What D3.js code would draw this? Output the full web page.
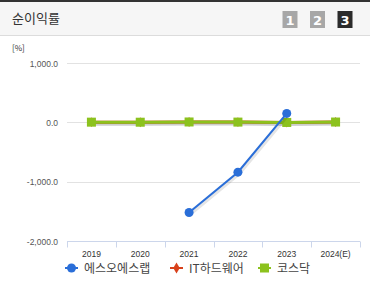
<!DOCTYPE html>
<html>
<head>
<meta charset="utf-8">
<script src="https://cdn.jsdelivr.net/npm/d3@7"></script>
<style>
  html, body { margin: 0; padding: 0; background: #fff; }
  body { width: 370px; height: 285px; overflow: hidden; font-family: "Noto Sans CJK KR", "Noto Sans", sans-serif; }
</style>
</head>
<body>
<div id="chart"></div>
<script>
const title = "순이익률";
const unitLabel = "[%]";
const years = ["2019", "2020", "2021", "2022", "2023", "2024(E)"];
const yTicks = [1000, 0, -1000, -2000];
const seriesNames = ["에스오에스랩", "IT하드웨어", "코스닥"];
const seriesColors = ["#2a6ed8", "#d8411b", "#8cc21e"];
const sosValues = [null, null, -1520, -840, 150, null];
const itValues = [3, 2, 5, 4, -2, 5];
const kosdaqValues = [3, 2, 6, 4, -2, 5];
const pageButtons = ["1", "2", "3"];

const width = 370, height = 285;
const svg = d3.select("#chart").append("svg")
    .attr("width", width).attr("height", height)
    .attr("font-family", "'Noto Sans CJK KR', sans-serif");

// header
svg.append("rect").attr("x", 0).attr("y", 0).attr("width", width).attr("height", 36).attr("fill", "#f6f6f6");
svg.append("rect").attr("x", 0).attr("y", 0).attr("width", width).attr("height", 2).attr("fill", "#333");
svg.append("rect").attr("x", 0).attr("y", 35).attr("width", width).attr("height", 1).attr("fill", "#dcdcdc");
svg.append("text").attr("x", 12).attr("y", 23).attr("font-size", 13).attr("fill", "#333").text(title);

const btnX = d3.scalePoint().domain(pageButtons).range([290, 345]);
const btn = svg.selectAll(".btn").data(pageButtons).enter().append("g").attr("class", "btn");
btn.append("rect")
    .attr("x", d => btnX(d) - 7.5).attr("y", 11).attr("width", 15).attr("height", 17)
    .attr("fill", (d, i) => i === 2 ? "#2b2b2b" : "#a7a7a7");
btn.append("text")
    .attr("x", d => btnX(d)).attr("y", 24.5).attr("text-anchor", "middle")
    .attr("font-size", 13).attr("font-weight", "bold").attr("fill", "#fff")
    .attr("font-family", "'DejaVu Sans', sans-serif")
    .text(d => d);

// chart
const x = d3.scaleBand().domain(years).range([67, 360]);
const y = d3.scaleLinear().domain([-2000, 1000]).range([241, 63]);

svg.append("text").attr("x", 12).attr("y", 51).attr("font-size", 8).attr("fill", "#333").text(unitLabel);

svg.selectAll(".grid").data(yTicks).enter().append("line")
    .attr("x1", 67).attr("x2", 360)
    .attr("y1", d => Math.round(y(d)) + 0.5).attr("y2", d => Math.round(y(d)) + 0.5)
    .attr("stroke", "#e2e2e2");

svg.selectAll(".ylab").data(yTicks).enter().append("text")
    .attr("x", 58).attr("y", d => y(d) + 3.5).attr("text-anchor", "end")
    .attr("font-size", 8.5).attr("fill", "#555")
    .attr("font-family", "'Liberation Sans', Arial, sans-serif")
    .text(d => d3.format(",.1f")(d).replace("−", "-"));

const xAxis = svg.append("g").attr("transform", "translate(0,241.5)");
xAxis.append("line").attr("x1", 67).attr("x2", 360).attr("stroke", "#ccd6eb");
xAxis.selectAll(".tick").data(years.map(d => x(d)).concat([360])).enter().append("line")
    .attr("x1", d => Math.round(d) + 0.5).attr("x2", d => Math.round(d) + 0.5)
    .attr("y1", 0).attr("y2", 6).attr("stroke", "#ccd6eb");
xAxis.selectAll(".xlab").data(years).enter().append("text")
    .attr("x", d => x(d) + x.bandwidth() / 2).attr("y", 15)
    .attr("text-anchor", "middle").attr("font-size", 8.5).attr("fill", "#333")
    .attr("font-family", "'Liberation Sans', Arial, sans-serif")
    .text(d => d);

const cx = d => x(d) + x.bandwidth() / 2;
const line = d3.line().defined(d => d.v !== null).x(d => cx(d.year)).y(d => y(d.v));
const toPts = vals => years.map((yr, i) => ({ year: yr, v: vals[i] }));
const allSeries = [itValues, kosdaqValues, sosValues];
const order = [1, 2, 0];

allSeries.forEach((vals, k) => {
  const si = order[k];
  const pts = toPts(vals);
  // shadow
  svg.append("path").attr("d", line(pts)).attr("fill", "none")
      .attr("stroke", "#000").attr("stroke-opacity", 0.1).attr("stroke-width", 4)
      .attr("transform", "translate(1,1.5)");
  svg.append("path").attr("d", line(pts)).attr("fill", "none")
      .attr("stroke", seriesColors[si]).attr("stroke-width", si === 0 ? 2 : 3);
  const dots = pts.filter(d => d.v !== null);
  if (si === 0) {
    svg.selectAll(".m0").data(dots).enter().append("circle")
        .attr("cx", d => cx(d.year)).attr("cy", d => y(d.v)).attr("r", 4.5)
        .attr("fill", seriesColors[si]);
  } else if (si === 1) {
    svg.selectAll(".m1").data(dots).enter().append("path")
        .attr("d", d3.symbol(d3.symbolDiamond, 28))
        .attr("transform", d => `translate(${cx(d.year)},${y(d.v)})`)
        .attr("fill", seriesColors[si]);
  } else {
    svg.selectAll(".m2").data(dots).enter().append("rect")
        .attr("x", d => cx(d.year) - 4.5).attr("y", d => y(d.v) - 4.5)
        .attr("width", 9).attr("height", 9).attr("fill", seriesColors[si]);
  }
});

// legend
const legendX = [65, 170, 258];
const lg = svg.selectAll(".lg").data(seriesNames).enter().append("g")
    .attr("transform", (d, i) => `translate(${legendX[i]},268)`);
lg.append("line").attr("x1", 0).attr("x2", 13).attr("stroke", (d, i) => seriesColors[i]).attr("stroke-width", 2);
lg.each(function (d, i) {
  const g = d3.select(this);
  if (i === 0) g.append("circle").attr("cx", 6.5).attr("r", 4.5).attr("fill", seriesColors[i]);
  else if (i === 1) g.append("path").attr("d", d3.symbol(d3.symbolDiamond, 36)).attr("transform", "translate(6.5,0)").attr("fill", seriesColors[i]);
  else g.append("rect").attr("x", 2).attr("y", -4.5).attr("width", 9).attr("height", 9).attr("fill", seriesColors[i]);
});
lg.append("text").attr("x", 19).attr("y", 4.5).attr("font-size", 12).attr("fill", "#444").text(d => d);
</script>
</body>
</html>
